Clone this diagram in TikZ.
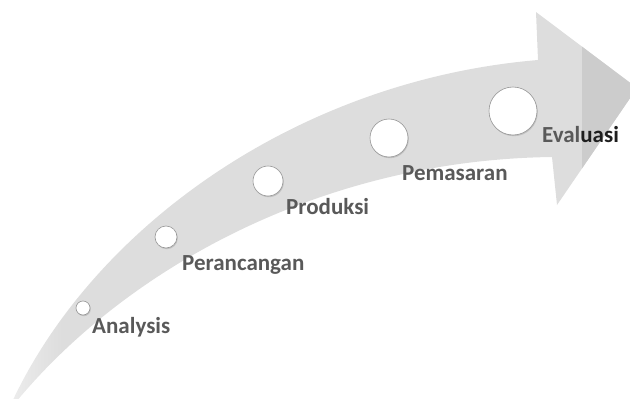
\documentclass[tikz,border=0pt]{standalone}
\usepackage{fontspec}
\setmainfont{Carlito}
\usetikzlibrary{shadows}
\definecolor{bandgray}{RGB}{221,221,221}
\definecolor{headgray}{RGB}{204,204,204}
\definecolor{dotline}{RGB}{150,150,150}
\definecolor{labelgray}{RGB}{89,89,89}
\definecolor{labeldark}{RGB}{30,30,30}
\pgfdeclarehorizontalshading{bandfade}{100bp}{color(0bp)=(white); color(25bp)=(white!45!bandgray); color(29bp)=(bandgray); color(100bp)=(bandgray)}

\begin{document}
\begin{tikzpicture}[
    x=1pt, y=-1pt,
    stepdot/.style={circle, draw=dotline, line width=0.6pt, fill=white, inner sep=0pt,
        drop shadow={opacity=0.3, shadow xshift=0.8pt, shadow yshift=-1.2pt}},
    steplabel/.style={anchor=base west, inner sep=0pt,
        font=\fontsize{23}{27}\selectfont\bfseries, text=labelgray}
]
    \useasboundingbox (0,0) rectangle (630,399);
    \clip (0,0) rectangle (630,399);

    % Curved arrow
    \shade[shading=bandfade] (12,402) .. controls (95,225) and (300,80) .. (538,60)
        -- (536,12) -- (637,88) -- (557,205) -- (552,157)
        .. controls (320,160) and (125,270) .. (16,402) -- cycle;
    \begin{scope}
        \clip (536,12) -- (637,88) -- (557,205) -- cycle;
        \fill[headgray] (582,0) rectangle (640,260);
    \end{scope}

    % Steps
    \node[stepdot, minimum size=14pt] (analysis)    at (83,308)  {};
    \node[stepdot, minimum size=22pt] (perancangan) at (166,237) {};
    \node[stepdot, minimum size=30pt] (produksi)    at (268,181) {};
    \node[stepdot, minimum size=38pt] (pemasaran)   at (389,138) {};
    \node[stepdot, minimum size=48pt] (evaluasi)    at (513,111) {};

    % Labels
    \node[steplabel] (analysistext)    at (92,333)  {Analysis};
    \node[steplabel] (perancangantext) at (182,270) {Perancangan};
    \node[steplabel] (produksitext)    at (286,214) {Produksi};
    \node[steplabel] (pemasarantext)   at (402,180) {Pemasaran};
    \node[steplabel] (evaluasitext)    at (542,142) {Eval\textcolor{labeldark}{uasi}};

\end{tikzpicture}
\end{document}
